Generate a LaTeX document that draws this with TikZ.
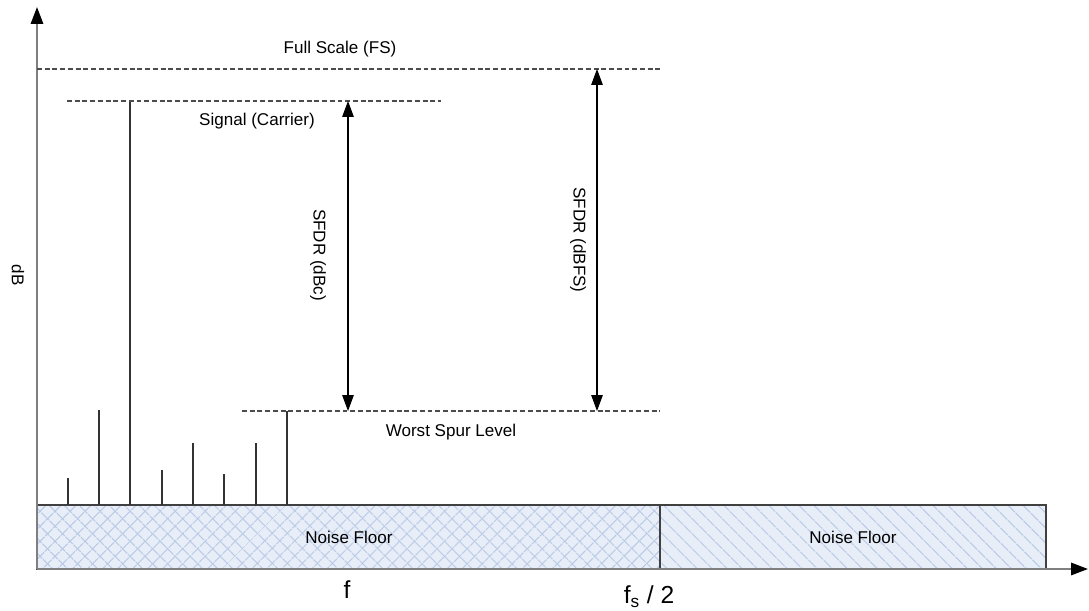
\documentclass[tikz,border=0pt]{standalone}
\usepackage{fontspec}
\setmainfont{Liberation Sans}
\usetikzlibrary{arrows.meta, patterns.meta}
\definecolor{floorfill}{HTML}{E8EEF8}
\definecolor{floorhatch}{HTML}{B8C9E6}
\definecolor{axisgray}{HTML}{7F7F7F}

\begin{document}
\begin{tikzpicture}[
                x=0.02cm, y=-0.02cm,
                axis/.style={draw=axisgray, line width=1.1pt, -{Triangle[length=9.6pt, width=7pt, color=black]}},
                level/.style={draw=black!70, line width=0.6pt, dash pattern=on 2.8pt off 1.6pt},
                tone/.style={draw=black!80, line width=0.6pt},
                span/.style={draw=black, line width=0.6pt, {Triangle[length=9pt, width=6.5pt]}-{Triangle[length=9pt, width=6.5pt]}},
                floorbox/.style={draw=black!75, line width=1pt},
                lbl/.style={font=\fontsize{9.7}{11}\selectfont, inner sep=0pt},
                big/.style={font=\fontsize{14}{16}\selectfont, inner sep=0pt}
            ]

                \useasboundingbox (0,0) rectangle (1089,611);

                % noise floor bands
                \coordinate (floorA) at (37,505);
                \coordinate (floorB) at (660,569);
                \coordinate (floorC) at (1046,505);
                \fill[floorfill] (floorA) rectangle (floorC |- floorB);
                \fill[pattern={Lines[angle=45, distance=6.5pt, line width=0.7pt]}, pattern color=floorhatch] (floorA) rectangle (floorB);
                \fill[pattern={Lines[angle=-45, distance=6.5pt, line width=0.7pt]}, pattern color=floorhatch] (floorA) rectangle (floorC |- floorB);
                \draw[floorbox] (floorA) rectangle (floorB);
                \draw[floorbox] (floorB |- floorA) rectangle (floorC |- floorB);
                \node[lbl] (floor1) at (349,537) {Noise Floor};
                \node[lbl] (floor2) at (853,537) {Noise Floor};

                % axes
                \coordinate (origin) at (37,569);
                \coordinate (ytop)   at (37,7);
                \coordinate (xend)   at (1088,569);
                \draw[axis] (origin) -- (ytop);
                \draw[axis] (origin) -- (xend);

                % carrier and spurs
                \draw[tone] (130,505) -- (130,101);
                \foreach \px/\py in {68/478, 99/410, 162/470, 193/443, 224/474, 256/443, 287/411}
                    \draw[tone] (\px,505) -- (\px,\py);

                % reference levels
                \coordinate (fsL)   at (37,69);
                \coordinate (fsR)   at (660,69);
                \coordinate (sigL)  at (67,101);
                \coordinate (sigR)  at (441,101);
                \coordinate (spurL) at (242,411);
                \coordinate (spurR) at (660,411);
                \draw[level] (fsL) -- (fsR);
                \draw[level] (sigL) -- (sigR);
                \draw[level] (spurL) -- (spurR);

                \node[lbl] (fslabel)   at (340,49)  {Full Scale (FS)};
                \node[lbl] (siglabel)  at (257,121) {Signal (Carrier)};
                \node[lbl] (spurlabel) at (451,432) {Worst Spur Level};

                % SFDR spans
                \coordinate (dbcTop) at (348,101);
                \coordinate (dbcBot) at (348,411);
                \coordinate (fsTop)  at (597,69);
                \coordinate (fsBot)  at (597,411);
                \draw[span] (dbcTop) -- (dbcBot);
                \draw[span] (fsTop) -- (fsBot);
                \node[lbl, rotate=-90] (dbclabel)  at (318,255) {SFDR (dBc)};
                \node[lbl, rotate=-90] (dbfslabel) at (578,240) {SFDR (dBFS)};

                % axis labels
                \node[lbl, rotate=-90] (ylabel) at (18,275) {dB};
                \node[big] (xlabel)  at (347,590) {f};
                \node[big] (fslabel2) at (649,597) {f\textsubscript{s} / 2};

            \end{tikzpicture}
\end{document}
